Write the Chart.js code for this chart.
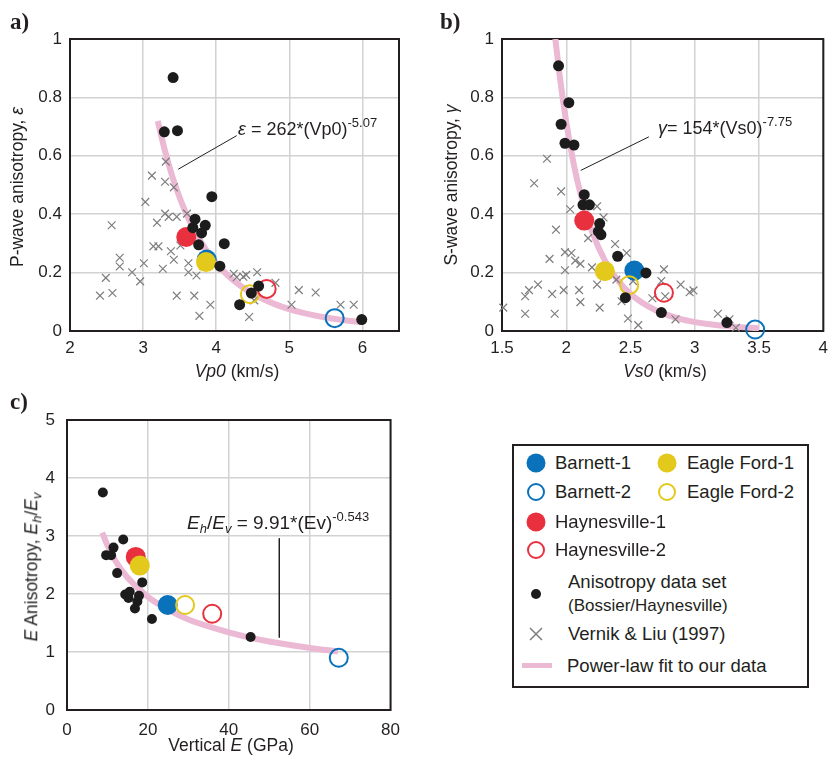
<!DOCTYPE html>
<html>
<head>
<meta charset="utf-8">
<script src="https://cdn.jsdelivr.net/npm/chart.js@4.4.1/dist/chart.umd.min.js"></script>
<style>
  body { margin: 0; width: 835px; height: 760px; position: relative; overflow: hidden; background: #fff;
         font-family: "Liberation Sans", Arial, sans-serif; color: #231f20; }
  .panel { position: absolute; }
  .txt { position: absolute; white-space: nowrap; line-height: 1; }
  .lab { font-family: "Liberation Serif", serif; font-weight: bold; font-size: 23px; }
  .ytitle { transform: translate(-50%, -50%) rotate(-90deg); font-size: 17.5px; }
  .xtitle { transform: translate(-50%, -50%); font-size: 17.5px; }
  .eq { font-size: 18px; transform: translateY(-50%); }
  .sup { font-size: 13px; position: relative; top: -8px; }
  .sub { font-size: 13px; position: relative; top: 4px; }
  #legend { position: absolute; left: 512px; top: 444px; width: 293px; height: 240px; border: 2px solid #231f20; }
  .mk { position: absolute; border-radius: 50%; transform: translate(-50%, -50%); box-sizing: border-box; }
  .lg { position: absolute; white-space: nowrap; line-height: 1; font-size: 18.5px; transform: translateY(-50%); }
</style>
</head>
<body>

<div class="panel" style="left:0;top:0;width:410px;height:380px"><canvas id="chartA"></canvas></div>
<div class="panel" style="left:420px;top:0;width:415px;height:380px"><canvas id="chartB"></canvas></div>
<div class="panel" style="left:0;top:380px;width:410px;height:380px"><canvas id="chartC"></canvas></div>

<!-- panel labels -->
<div class="txt lab" style="left:10px;top:10px">a)</div>
<div class="txt lab" style="left:440px;top:10px">b)</div>
<div class="txt lab" style="left:10px;top:390px">c)</div>

<!-- axis titles -->
<div class="txt ytitle" style="left:18px;top:187px">P-wave anisotropy, <i>ε</i></div>
<div class="txt xtitle" style="left:237px;top:372px"><i>Vp0</i> (km/s)</div>
<div class="txt ytitle" style="left:452px;top:185px">S-wave anisotropy, <i>γ</i></div>
<div class="txt xtitle" style="left:665px;top:372px"><i>Vs0</i> (km/s)</div>
<div class="txt ytitle" style="left:32px;top:567px"><i>E</i> Anisotropy, <i>E<span class="sub">h</span></i>/<i>E<span class="sub">v</span></i></div>
<div class="txt xtitle" style="left:231px;top:746px">Vertical <i>E</i> (GPa)</div>

<!-- fit equations -->
<div class="txt eq" style="left:238px;top:129px"><i>ε</i> = 262*(Vp0)<span class="sup">-5.07</span></div>
<div class="txt eq" style="left:658px;top:128px"><i>γ</i>= 154*(Vs0)<span class="sup">-7.75</span></div>
<div class="txt eq" style="left:187px;top:522px;font-size:19px"><i>E<span class="sub">h</span></i>/<i>E<span class="sub">v</span></i> = 9.91*(Ev)<span class="sup">-0.543</span></div>

<!-- legend -->
<div id="legend"></div>
<div class="mk" style="left:536px;top:463px;width:19px;height:19px;background:#0a72ba"></div>
<div class="lg" style="left:555px;top:463px">Barnett-1</div>
<div class="mk" style="left:667px;top:463px;width:19px;height:19px;background:#e3c91c"></div>
<div class="lg" style="left:687px;top:463px">Eagle Ford-1</div>
<div class="mk" style="left:536px;top:492px;width:18px;height:18px;border:2px solid #0a72ba"></div>
<div class="lg" style="left:555px;top:492px">Barnett-2</div>
<div class="mk" style="left:667px;top:492px;width:18px;height:18px;border:2px solid #e3c91c"></div>
<div class="lg" style="left:687px;top:492px">Eagle Ford-2</div>
<div class="mk" style="left:536px;top:522px;width:19px;height:19px;background:#e8303f"></div>
<div class="lg" style="left:555px;top:522px">Haynesville-1</div>
<div class="mk" style="left:536px;top:550px;width:18px;height:18px;border:2px solid #e8303f"></div>
<div class="lg" style="left:555px;top:550px">Haynesville-2</div>
<div class="mk" style="left:536px;top:594px;width:10px;height:10px;background:#1c1c1c"></div>
<div class="lg" style="left:568px;top:582px">Anisotropy data set</div>
<div class="lg" style="left:568px;top:605px;font-size:17px">(Bossier/Haynesville)</div>
<svg style="position:absolute;left:529px;top:627px" width="14" height="14"><path d="M1 1 L13 13 M13 1 L1 13" stroke="#7d7d7d" stroke-width="1.5"/></svg>
<div class="lg" style="left:568px;top:634px">Vernik &amp; Liu (1997)</div>
<div style="position:absolute;left:522px;top:663px;width:30px;height:5px;background:#ebb9d4"></div>
<div class="lg" style="left:567px;top:666px">Power-law fit to our data</div>

<script>
// sample markers: Barnett-1, Barnett-2, Haynesville-1, Haynesville-2, Eagle Ford-1, Eagle Ford-2
const sampleNames = ['Barnett-1', 'Barnett-2', 'Haynesville-1', 'Haynesville-2', 'Eagle Ford-1', 'Eagle Ford-2'];

// panel a) P-wave anisotropy vs Vp0
const aSampleVp  = [3.87, 5.62, 3.59, 4.69, 3.86, 4.46];
const aSampleEps = [0.245, 0.044, 0.322, 0.144, 0.236, 0.126];
const aDotVp  = [3.41, 3.29, 3.47, 3.94, 3.71, 3.68, 3.85, 3.80, 3.76, 4.11, 4.05, 4.58, 4.48, 4.32, 5.99];
const aDotEps = [0.868, 0.682, 0.686, 0.46, 0.383, 0.354, 0.362, 0.336, 0.295, 0.299, 0.222, 0.154, 0.130, 0.090, 0.039];
const aCrossVp  = [3.31, 3.12, 3.30, 3.42, 3.03, 2.57, 3.30, 3.35, 3.46, 3.60, 3.19, 3.14, 3.21, 3.38, 3.51, 3.42,
                   2.68, 2.68, 3.01, 2.85, 2.96, 3.27, 3.62, 3.62, 3.73, 2.49, 2.41, 2.58, 3.46, 3.70, 3.92, 3.77,
                   4.24, 4.37, 4.41, 4.56, 4.28, 4.81, 5.13, 5.36, 5.03, 5.70, 5.88, 4.45, 4.52];
const aCrossEps = [0.580, 0.532, 0.511, 0.492, 0.442, 0.362, 0.402, 0.391, 0.391, 0.402, 0.371, 0.290, 0.290, 0.273, 0.293, 0.244,
                   0.251, 0.221, 0.232, 0.201, 0.170, 0.213, 0.232, 0.201, 0.190, 0.182, 0.121, 0.130, 0.121, 0.121, 0.090, 0.052,
                   0.196, 0.186, 0.192, 0.201, 0.184, 0.165, 0.140, 0.132, 0.090, 0.090, 0.090, 0.048, 0.105];
const aFitVp  = [3.2, 3.3, 3.4, 3.5, 3.6, 3.8, 4.0, 4.2, 4.5, 4.8, 5.2, 5.6, 6.0];
const aFitEps = [0.719, 0.616, 0.529, 0.457, 0.396, 0.301, 0.232, 0.181, 0.128, 0.092, 0.061, 0.042, 0.030];
const aLeadVp  = [3.48, 4.28];
const aLeadEps = [0.554, 0.669];

// panel b) S-wave anisotropy vs Vs0
const bSampleVs    = [2.53, 3.47, 2.14, 2.76, 2.30, 2.49];
const bSampleGamma = [0.207, 0.005, 0.378, 0.131, 0.205, 0.157];
const bDotVs    = [1.94, 2.02, 1.96, 1.99, 2.06, 2.14, 2.13, 2.18, 2.26, 2.25, 2.27, 2.40, 2.62, 2.46, 2.74, 3.25];
const bDotGamma = [0.908, 0.782, 0.708, 0.643, 0.637, 0.467, 0.432, 0.432, 0.368, 0.341, 0.330, 0.256, 0.199, 0.114, 0.063, 0.029];
const bCrossVs    = [1.85, 1.75, 1.96, 2.03, 2.24, 2.29, 1.92, 2.17, 2.38, 2.47, 1.87, 1.99, 2.04, 2.07, 2.11, 1.99,
                     2.20, 2.24, 1.98, 2.10, 1.89, 1.78, 1.71, 1.68, 2.11, 1.51, 1.68, 1.91, 2.26, 2.43, 2.39, 2.48,
                     2.56, 2.67, 2.76, 2.77, 2.52, 2.74, 2.89, 2.96, 2.99, 2.85, 3.18, 3.27, 3.32];
const bCrossGamma = [0.59, 0.506, 0.478, 0.417, 0.427, 0.389, 0.347, 0.318, 0.298, 0.267, 0.247, 0.270, 0.267, 0.241, 0.230, 0.208,
                     0.218, 0.159, 0.140, 0.140, 0.127, 0.159, 0.140, 0.119, 0.099, 0.080, 0.059, 0.059, 0.080, 0.102, 0.176, 0.043,
                     0.020, 0.112, 0.211, 0.119, 0.171, 0.171, 0.159, 0.133, 0.139, 0.040, 0.059, 0.040, 0.011];
const bFitVs    = [1.915, 1.95, 2.0, 2.05, 2.1, 2.2, 2.3, 2.4, 2.5, 2.7, 2.9, 3.1, 3.3, 3.5];
const bFitGamma = [1.0, 0.871, 0.715, 0.590, 0.490, 0.342, 0.242, 0.174, 0.127, 0.070, 0.040, 0.024, 0.015, 0.009];
const bLeadVs    = [2.113, 2.643];
const bLeadGamma = [0.55, 0.665];

// panel c) E anisotropy vs vertical E
const cSampleEv    = [24.9, 67.2, 17.0, 35.9, 18.0, 29.2];
const cSampleRatio = [1.81, 0.90, 2.64, 1.66, 2.49, 1.81];
const cDotEv    = [8.86, 13.9, 11.5, 9.68, 10.9, 12.4, 18.6, 14.4, 15.5, 15.2, 17.8, 17.4, 16.8, 21.0, 45.4];
const cDotRatio = [3.75, 2.94, 2.80, 2.67, 2.67, 2.36, 2.20, 1.99, 2.04, 1.93, 1.97, 1.87, 1.75, 1.57, 1.26];
const cFitEv    = [8.7, 10, 12, 15, 20, 25, 30, 40, 50, 60, 67];
const cFitRatio = [3.06, 2.84, 2.57, 2.28, 1.95, 1.73, 1.56, 1.34, 1.18, 1.07, 1.01];
const cLeadEv    = [52.5, 52.5];
const cLeadRatio = [2.96, 1.25];

const BLUE = '#0a72ba', RED = '#e8303f', YELLOW = '#e3c91c', PINK = '#ebb9d4', GREY = '#7d7d7d', BLACK = '#1c1c1c';
const sampleStyles = [
    { color: BLUE, open: false, order: 3 },
    { color: BLUE, open: true, order: 1 },
    { color: RED, open: false, order: 2 },
    { color: RED, open: true, order: 1 },
    { color: YELLOW, open: false, order: 1 },
    { color: YELLOW, open: true, order: 1 }
];

const pts = (xs, ys) => xs.map((x, i) => ({ x: x, y: ys[i] }));

function buildSets(sx, sy, dx, dy, cx, cy, fx, fy, lx, ly, dotR) {
    const sets = [];
    sampleNames.forEach((name, i) => {
        const st = sampleStyles[i];
        sets.push({
            label: name, data: pts([sx[i]], [sy[i]]), pointStyle: 'circle',
            pointRadius: st.open ? 9 : 10,
            pointBackgroundColor: st.open ? 'rgba(0,0,0,0)' : st.color,
            pointBorderColor: st.color, pointBorderWidth: st.open ? 2 : 0,
            order: st.order, clip: false
        });
    });
    sets.push({ label: 'Anisotropy data set', data: pts(dx, dy), pointStyle: 'circle', pointRadius: dotR,
        pointBackgroundColor: BLACK, pointBorderWidth: 0, order: 0, clip: false });
    if (cx) {
        sets.push({ label: 'Vernik & Liu (1997)', data: pts(cx, cy), pointStyle: 'crossRot', pointRadius: 5.5,
            pointBorderColor: GREY, pointBorderWidth: 1.2, order: 6, clip: false });
    }
    sets.push({ label: 'Power-law fit', data: pts(fx, fy), showLine: true, pointRadius: 0, borderColor: PINK,
        borderWidth: 6, cubicInterpolationMode: 'monotone', order: 8, clip: 0 });
    sets.push({ label: 'leader', data: pts(lx, ly), showLine: true, pointRadius: 0, borderColor: '#231f20',
        borderWidth: 1, order: 7, clip: false });
    return sets;
}

const framePlugin = {
    id: 'frame',
    beforeDatasetsDraw(chart) {
        const { ctx, chartArea: a } = chart;
        ctx.save();
        ctx.strokeStyle = '#231f20';
        ctx.lineWidth = 2;
        ctx.strokeRect(a.left, a.top, a.right - a.left, a.bottom - a.top);
        ctx.restore();
    }
};

const tickFont = { family: 'Liberation Sans', size: 17 };
const plainNum = (v) => String(Number(Number(v).toFixed(2)));

function makeChart(id, sets, xs, ys, box) {
    return new Chart(document.getElementById(id), {
        type: 'scatter',
        data: { datasets: sets },
        plugins: [framePlugin],
        options: {
            responsive: true,
            maintainAspectRatio: false,
            animation: false,
            events: [],
            layout: { padding: { top: box.top, right: box.right, left: 0, bottom: 0 } },
            plugins: { legend: { display: false }, tooltip: { enabled: false } },
            scales: {
                x: {
                    type: 'linear', min: xs.min, max: xs.max,
                    ticks: { stepSize: xs.step, includeBounds: false, font: tickFont, color: '#231f20',
                             padding: box.xPad, maxRotation: 0, callback: plainNum },
                    grid: { color: '#d2d2d2', lineWidth: 1.5, drawTicks: false },
                    border: { display: false },
                    afterFit: (s) => { s.height = box.xHeight; }
                },
                y: {
                    type: 'linear', min: ys.min, max: ys.max,
                    ticks: { stepSize: ys.step, font: tickFont, color: '#231f20', padding: box.yPad, callback: plainNum },
                    grid: { color: '#d2d2d2', lineWidth: 1.5, drawTicks: false },
                    border: { display: false },
                    afterFit: (s) => { s.width = box.yWidth; }
                }
            }
        }
    });
}

makeChart('chartA',
    buildSets(aSampleVp, aSampleEps, aDotVp, aDotEps, aCrossVp, aCrossEps, aFitVp, aFitEps, aLeadVp, aLeadEps, 5.5),
    { min: 2, max: 6.5, step: 1 }, { min: 0, max: 1, step: 0.2 },
    { top: 39, right: 11, xHeight: 49, yWidth: 70, xPad: 7, yPad: 8 });

makeChart('chartB',
    buildSets(bSampleVs, bSampleGamma, bDotVs, bDotGamma, bCrossVs, bCrossGamma, bFitVs, bFitGamma, bLeadVs, bLeadGamma, 5.5),
    { min: 1.5, max: 4, step: 0.5 }, { min: 0, max: 1, step: 0.2 },
    { top: 39, right: 7, xHeight: 49, yWidth: 82, xPad: 7, yPad: 8 });

makeChart('chartC',
    buildSets(cSampleEv, cSampleRatio, cDotEv, cDotRatio, null, null, cFitEv, cFitRatio, cLeadEv, cLeadRatio, 5),
    { min: 0, max: 80, step: 20 }, { min: 0, max: 5, step: 1 },
    { top: 40, right: 15, xHeight: 50, yWidth: 67, xPad: 10, yPad: 12 });
</script>
</body>
</html>
